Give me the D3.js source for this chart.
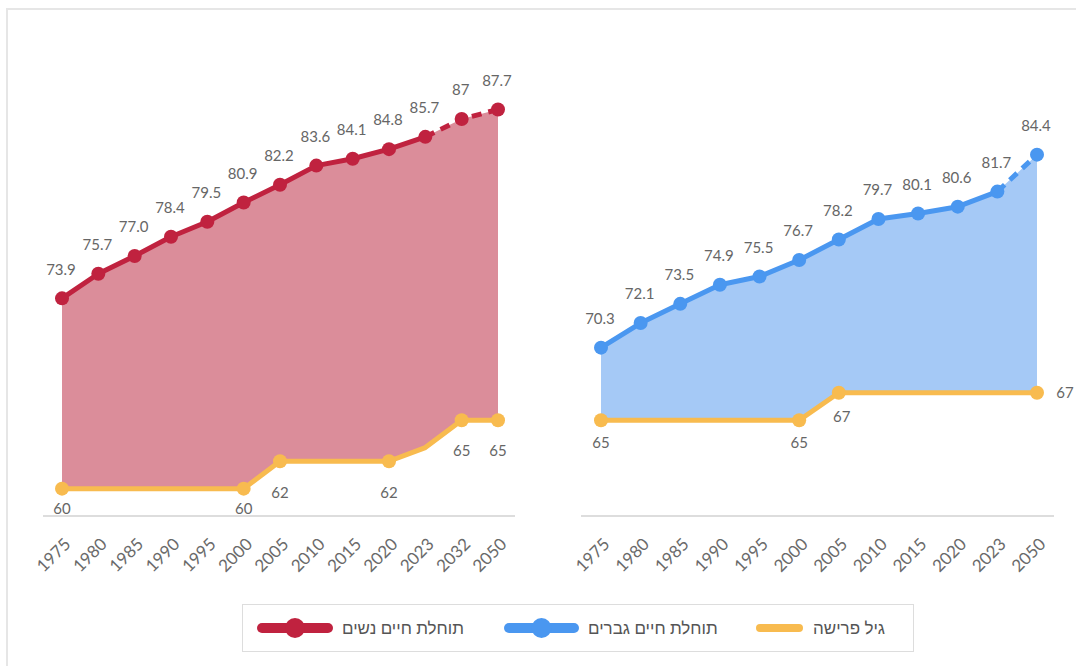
<!doctype html>
<meta charset="utf-8">
<script src="https://d3js.org/d3.v7.min.js"></script>
<style>
  body { margin: 0; background: #fff; }
  text { font-family: Lato, "Noto Sans", sans-serif; }
</style>
<body></body>
<script>

var width = 1076;
var height = 666;

// women (left panel)
var yearsW = ["1975", "1980", "1985", "1990", "1995", "2000", "2005", "2010", "2015", "2020", "2023", "2032", "2050"];
var lifeW = [73.9, 75.7, 77.0, 78.4, 79.5, 80.9, 82.2, 83.6, 84.1, 84.8, 85.7, 87, 87.7];
var lifeLabelsW = ["73.9", "75.7", "77.0", "78.4", "79.5", "80.9", "82.2", "83.6", "84.1", "84.8", "85.7", "87", "87.7"];
var retireW = [60, 60, 60, 60, 60, 60, 62, 62, 62, 62, 63, 65, 65];
var retireMarkedW = ["1975", "2000", "2005", "2020", "2032", "2050"];

// men (right panel)
var yearsM = ["1975", "1980", "1985", "1990", "1995", "2000", "2005", "2010", "2015", "2020", "2023", "2050"];
var lifeM = [70.3, 72.1, 73.5, 74.9, 75.5, 76.7, 78.2, 79.7, 80.1, 80.6, 81.7, 84.4];
var retireM = [65, 65, 65, 65, 65, 65, 67, 67, 67, 67, 67, 67];
var retireMarkedM = ["1975", "2000", "2005", "2050"];

var lastObserved = "2023";

var legendNames = ["תוחלת חיים נשים", "תוחלת חיים גברים", "גיל פרישה"];

var red = "#c0223f", redFill = "#db8d9a";
var blue = "#4a97f0", blueFill = "#a5c9f6";
var yellow = "#f8bb4f";
var gray = "#666";

var svg = d3.select("body").append("svg")
    .attr("width", width)
    .attr("height", height);

// faint frame of the original screenshot
svg.append("path")
    .attr("d", "M7,666 V9 H1076")
    .attr("fill", "none")
    .attr("stroke", "#e6e6e6")
    .attr("stroke-width", 2);

var y = d3.scaleLinear().domain([58, 90]).range([516, 78]);

function panel(opt) {
    var x = d3.scalePoint().domain(opt.years).range(opt.xRange);
    var rows = opt.years.map(function(yr, i) {
        return { year: yr, life: opt.life[i], retire: opt.retire[i], label: opt.labels[i] };
    });
    var g = svg.append("g");

    var area = d3.area()
        .x(function(d) { return x(d.year); })
        .y0(function(d) { return y(d.retire); })
        .y1(function(d) { return y(d.life); });
    g.append("path").attr("d", area(rows)).attr("fill", opt.fill);

    // baseline
    g.append("line")
        .attr("x1", opt.axisRange[0]).attr("x2", opt.axisRange[1])
        .attr("y1", y(58)).attr("y2", y(58))
        .attr("stroke", "#ddd").attr("stroke-width", 2);

    // year ticks
    var axis = g.append("g")
        .attr("transform", "translate(0," + y(58) + ")")
        .call(d3.axisBottom(x).tickSize(0).tickPadding(0));
    axis.select(".domain").remove();
    axis.selectAll("text")
        .attr("fill", "#6a6a6a")
        .style("font-size", "17px")
        .attr("text-anchor", "end")
        .attr("x", 0).attr("y", 0)
        .attr("dy", "0.35em")
        .attr("transform", "translate(5,25) rotate(-45)");

    // retirement line
    var line = d3.line()
        .x(function(d) { return x(d.year); });
    g.append("path")
        .attr("d", line.y(function(d) { return y(d.retire); })(rows))
        .attr("fill", "none").attr("stroke", yellow).attr("stroke-width", 5)
        .attr("stroke-linejoin", "round");

    var marked = rows.filter(function(d) { return opt.retireMarked.indexOf(d.year) >= 0; });
    g.selectAll(".rdot").data(marked).enter().append("circle")
        .attr("cx", function(d) { return x(d.year); })
        .attr("cy", function(d) { return y(d.retire); })
        .attr("r", 7).attr("fill", yellow);
    g.selectAll(".rlab").data(marked).enter().append("text")
        .attr("x", function(d) { return x(d.year) + opt.retireLabelPos(d)[0]; })
        .attr("y", function(d) { return opt.retireLabelPos(d)[1]; })
        .attr("text-anchor", "middle")
        .attr("dy", "0.35em")
        .attr("fill", gray).style("font-size", "15px")
        .text(function(d) { return d.retire; });

    // life expectancy: solid to last observed year, dashed beyond
    var cut = opt.years.indexOf(lastObserved);
    var ly = line.y(function(d) { return y(d.life); });
    g.append("path")
        .attr("d", ly(rows.slice(0, cut + 1)))
        .attr("fill", "none").attr("stroke", opt.color).attr("stroke-width", 5)
        .attr("stroke-linejoin", "round");
    g.append("path")
        .attr("d", ly(rows.slice(cut)))
        .attr("fill", "none").attr("stroke", opt.color).attr("stroke-width", 5)
        .attr("stroke-dasharray", "10,7");
    g.selectAll(".ldot").data(rows).enter().append("circle")
        .attr("cx", function(d) { return x(d.year); })
        .attr("cy", function(d) { return y(d.life); })
        .attr("r", 7).attr("fill", opt.color);
    g.selectAll(".llab").data(rows).enter().append("text")
        .attr("x", function(d) { return x(d.year) - 1; })
        .attr("y", function(d) { return y(d.life) - 29; })
        .attr("text-anchor", "middle")
        .attr("dy", "0.35em")
        .attr("fill", gray).style("font-size", "15px")
        .text(function(d) { return d.label; });
}

panel({
    years: yearsW, life: lifeW, labels: lifeLabelsW, retire: retireW,
    retireMarked: retireMarkedW,
    xRange: [62, 498], axisRange: [43, 515],
    color: red, fill: redFill,
    retireLabelPos: function(d) { return [0, Math.min(y(d.retire) + 31, y(58) - 7)]; }
});

panel({
    years: yearsM, life: lifeM, labels: lifeM.map(function(v) { return v.toFixed(1); }), retire: retireM,
    retireMarked: retireMarkedM,
    xRange: [601, 1037], axisRange: [581, 1054],
    color: blue, fill: blueFill,
    retireLabelPos: function(d) {
        if (d.year === "2050") return [28, y(d.retire)];
        if (d.year === "2005") return [3, y(d.retire) + 24];
        return [0, y(d.retire) + 23];
    }
});

// legend
var legend = svg.append("g");
legend.append("rect")
    .attr("x", 242.5).attr("y", 604.5).attr("width", 671).attr("height", 47)
    .attr("fill", "#fff").attr("stroke", "#ddd");

var legendItems = [
    { name: legendNames[0], color: red, dot: true, len: 74, start: 258 },
    { name: legendNames[1], color: blue, dot: true, len: 73, start: 505 },
    { name: legendNames[2], color: yellow, dot: false, len: 47, start: 756 }
];
var cy = 628;
legendItems.forEach(function(it) {
    var cx = it.start;
    legend.append("line")
        .attr("x1", cx + 4).attr("x2", cx + it.len - 4)
        .attr("y1", cy).attr("y2", cy)
        .attr("stroke", it.color).attr("stroke-width", it.dot ? 10 : 8)
        .attr("stroke-linecap", "round");
    if (it.dot) {
        legend.append("circle").attr("cx", cx + it.len / 2).attr("cy", cy).attr("r", 10).attr("fill", it.color);
    }
    legend.append("text")
        .attr("x", cx + it.len + 10).attr("y", cy)
        .attr("dy", "0.35em")
        .attr("fill", "#555").style("font-size", "17px")
        .text(it.name);
});

</script>
